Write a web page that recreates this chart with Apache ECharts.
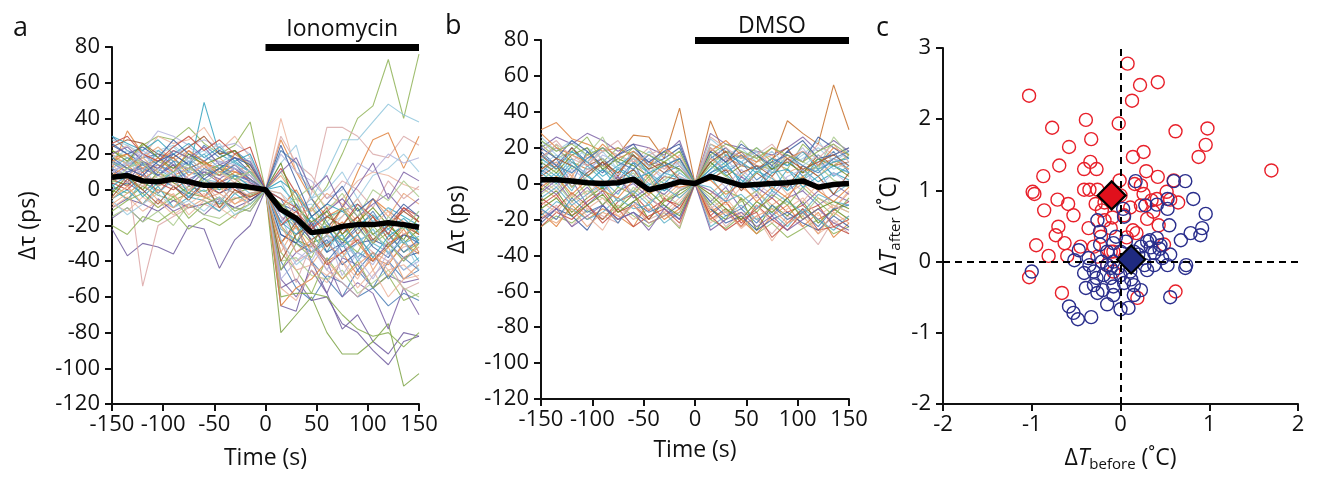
<!DOCTYPE html>
<html><head><meta charset="utf-8">
<script src="https://cdn.jsdelivr.net/npm/echarts@6/dist/echarts.min.js"></script>
<style>html,body{margin:0;padding:0;background:#fff}#c{width:1318px;height:477px}</style>
</head><body><div id="c"></div>
<script>
// ---- DATA ----
const times = [-150,-135,-120,-105,-90,-75,-60,-45,-30,-15,0,15,30,45,60,75,90,105,120,135,150];
const ionomycinSpan = [0,150];
const dmsoSpan = [0,150];
const ionomycinMean = [7,8,5,4.5,6,4.5,2.5,2.5,2.5,1.5,0,-11,-16,-24,-23,-20.5,-19.5,-19.5,-18.5,-19.5,-21];
const dmsoMean = [2.2,2.2,1.5,0.5,0,0.5,2.5,-3.4,-1.5,1,0,4,1.5,-1,-0.5,0,0.5,1.5,-2,-0.5,0];
const ionomycinCells = [
[30,22,18,20,14,12,16,10,8,5,0,-40,-55,-62,-48,-52,-60,-55,-65,-58,-62],
[12,33,20,16,22,18,15,12,10,8,0,28,10,-5,-15,-10,-20,-5,-12,-18,-25],
[18,15,25,30,28,35,26,20,25,38,0,-10,-20,-30,-26,-28,-18,-30,-24,-35,-30],
[-16,-10,-18,-5,-12,-8,-14,-6,-10,-12,0,-50,-60,-45,-58,-38,-42,-55,-48,-52,-50],
[10,8,5,12,6,10,49,20,15,10,0,2,-8,-20,-15,-12,-8,-18,-10,-15,-20],
[-22,-37,-30,-32,-36,-20,-22,-44,-28,-20,0,-65,-68,-40,-58,-78,-70,-85,-92,-80,-82],
[5,10,-54,-20,-15,-10,-8,-12,-5,-2,0,-30,-40,-35,-25,-30,-28,-35,-40,-32,-30],
[20,25,18,30,26,28,35,22,30,18,0,40,10,0,-10,-5,5,10,8,3,0],
[8,12,22,33,30,25,28,24,26,20,0,-15,-25,-20,-30,-22,-28,-25,-20,-18,-22],
[25,20,15,12,18,10,8,14,12,6,0,-8,-12,-25,-20,-35,-30,-28,-32,-25,-28],
[5,3,8,2,6,4,2,0,3,1,0,-20,-30,-10,2,20,40,47,73,40,76],
[10,15,12,8,5,10,6,4,8,2,0,5,-12,-5,10,28,28,38,48,42,38],
[15,12,10,18,14,12,10,8,6,4,0,-15,-20,-2,35,35,30,20,18,30,25],
[0,-5,2,-3,-6,-2,-4,-8,-5,-3,0,-80,-70,-60,-80,-92,-92,-85,-75,-110,-103],
[-10,-5,-8,-12,-6,-10,-8,-5,-10,-6,0,-55,-50,-62,-60,-75,-80,-90,-98,-85,-82],
[2,-2,4,0,-4,2,-1,3,-2,1,0,-60,-58,-58,-60,-70,-78,-82,-80,-88,-80],
[12,8,15,10,20,14,25,18,22,15,0,-5,-20,-40,-50,-60,-45,-55,-40,-50,-45],
[18,20,10,14,8,12,16,10,14,8,0,-10,0,-15,-25,-10,10,28,32,12,30],
[22,18,14,16,12,18,10,14,8,10,0,-35,-45,-58,-38,-50,-40,-55,-48,-62,-58],
[15,10,12,8,14,6,10,4,8,6,0,-45,-35,-30,-40,-60,-52,-58,-78,-55,-70],
[-5,0,-8,2,-10,-4,-6,-12,-2,-8,0,-20,-15,-25,-35,-20,-30,-22,-36,-28,-40],
[6,2,10,-2,8,4,-4,6,0,-6,0,12,-2,-20,-10,-25,-15,-30,-20,-10,-15],
[28,25,20,22,25,18,22,15,20,15,0,-2,-10,-8,-20,-15,-5,-18,-10,-22,-12],
[-8,-12,-4,-10,-2,-14,-6,-10,-16,-4,0,-30,-45,-42,-48,-40,-55,-45,-60,-50,-48],
[14,18,22,16,20,24,18,16,12,8,0,20,10,5,-5,0,15,10,20,15,18],
[0,4,-2,6,2,-4,4,-2,2,-6,0,-25,-30,-35,-28,-42,-35,-40,-30,-38,-35],
[20,14,18,24,16,22,12,18,10,14,0,8,-5,-12,-2,-8,-18,-5,-15,-2,-8],
[-15,-10,-18,-12,-20,-8,-14,-16,-10,-12,0,-40,-38,-48,-50,-45,-58,-52,-45,-55,-60],
[10,6,2,8,4,0,6,2,-2,4,0,30,15,8,-5,5,0,-10,5,-5,2],
[3,-6,5,-2,6,-4,0,-8,4,-2,0,-12,-22,-15,-32,-25,-40,-30,-35,-45,-38],
[24,28,26,20,18,24,30,20,22,12,0,-30,-18,-28,-22,-10,-25,-15,-28,-20,-25],
[-2,8,0,10,4,-2,8,12,6,0,0,-8,-28,-32,-15,-20,-10,-25,-18,-30,-22],
[16,12,20,14,10,16,8,12,6,10,0,22,15,-5,-18,-30,-22,-12,-25,-35,-28],
[8,14,6,12,18,8,14,4,10,6,0,-65,-55,-50,-40,-35,-48,-38,-42,-30,-36],
[-20,-25,-15,-18,-12,-22,-16,-20,-14,-10,0,-8,-15,-10,-20,-28,-18,-25,-32,-20,-28],
[12,4,16,8,14,2,10,6,12,4,0,-18,-8,-22,-12,-5,-15,-8,-2,-12,-5],
[30,26,22,28,20,26,18,24,16,20,0,5,-2,-15,-8,-12,-20,-14,-22,-16,-24],
[4,0,8,4,0,6,2,-2,4,0,0,-5,-10,-30,-42,-35,-28,-40,-30,-25,-20],
[18,22,14,20,24,16,20,26,14,18,0,15,25,-5,0,10,-5,8,12,20,10],
[-10,-4,-12,-6,-14,-8,-2,-10,-4,-8,0,-55,-62,-45,-52,-40,-50,-35,-45,-42,-50],
[10,16,8,4,12,10,14,8,12,8,0,-15,-35,-40,-25,-48,-35,-42,-28,-40,-32],
[26,20,24,18,28,20,16,22,18,10,0,-25,-30,-18,-35,-30,-20,-32,-38,-25,-30],
[-5,2,-8,0,-3,-10,-5,-2,-8,-4,0,-35,-20,-42,-30,-38,-25,-45,-32,-50,-42],
[15,12,18,10,6,12,8,14,6,10,0,10,-5,2,-12,-2,-15,0,-6,5,-4],
[8,4,12,2,10,0,4,-6,2,-4,0,-28,-52,-30,-45,-52,-60,-48,-40,-56,-52],
[12,18,10,22,16,14,20,12,16,10,0,-22,-28,-35,-30,-25,-38,-28,-22,-30,-26],
[-4,6,0,-8,2,-6,4,-10,0,-4,0,-40,-25,-20,-32,-22,-15,-28,-20,-12,-18],
[22,16,26,18,12,20,14,18,22,12,0,15,-10,-18,-12,-25,-18,-10,-20,-28,-15],
[6,10,14,8,16,4,12,8,14,6,0,-12,-18,-28,-40,-30,-45,-35,-50,-38,-45],
[16,20,12,18,10,22,16,8,20,14,0,-30,-20,-35,-25,-18,-30,-40,-32,-22,-35],
[-12,-6,-2,-10,-4,-16,-8,-4,-12,-8,0,-45,-30,-38,-20,-28,-35,-20,-30,-40,-30],
[20,24,16,12,22,18,24,14,18,16,0,10,18,0,8,-10,2,15,-5,10,5],
[2,8,-4,4,10,-2,6,0,8,2,0,-18,-25,-15,-22,-32,-25,-38,-26,-20,-30],
[26,30,20,16,24,30,22,28,20,24,0,-20,-12,-22,-15,-20,-8,-15,-25,-10,-18],
[-6,-14,-8,-2,-10,-6,-12,-4,-14,-8,0,-28,-42,-35,-25,-38,-30,-22,-35,-28,-45],
[14,6,18,10,2,8,14,10,4,12,0,-2,-15,-10,-25,-15,-5,-20,-12,-25,-20],
[10,14,20,12,8,18,10,16,14,8,0,-50,-40,-32,-45,-30,-38,-50,-35,-45,-40],
[18,12,8,16,20,14,6,12,18,14,0,25,5,-15,-8,2,-12,-5,-18,-8,-15],
[-8,-2,4,-6,-10,0,-4,2,-8,-2,0,-20,-35,-28,-40,-50,-42,-35,-48,-38,-32],
[4,12,16,6,10,14,4,10,6,10,0,-10,-5,-25,-18,-10,-22,-30,-15,-22,-12]
];
const dmsoCells = [
[15,20,12,8,10,16,27,26,14,42,0,35,15,10,8,12,35,28,22,55,30],
[30,34,25,22,18,20,15,12,10,8,0,22,18,15,10,8,12,6,10,14,8],
[-24,-18,-22,-15,-20,-12,-18,-24,-16,-25,0,-20,-25,-18,-28,-22,-30,-25,-20,-28,-24],
[20,26,22,28,24,18,22,20,16,24,0,28,22,20,18,16,20,26,18,24,18],
[8,2,12,5,-3,9,4,-1,6,3,0,12,5,-2,7,3,-4,8,1,6,2],
[-8,-14,-5,-12,-20,-10,-6,-15,-9,-12,0,-18,-10,-22,-14,-8,-16,-12,-20,-15,-10],
[26,18,24,14,20,16,10,18,12,8,0,25,18,12,20,14,10,16,24,12,15],
[-15,-20,-10,-18,-26,-12,-20,-14,-18,-10,0,-22,-15,-25,-18,-32,-20,-15,-28,-22,-18],
[5,12,-2,8,14,3,-5,10,2,-3,0,8,14,4,-6,10,2,-4,12,5,8],
[18,10,20,12,6,16,22,10,14,20,0,14,20,10,16,8,18,12,26,20,14],
[-2,-8,4,-6,2,-10,-4,6,-8,0,0,-6,2,-10,-4,-12,-6,0,-8,-14,-5],
[12,22,8,16,26,10,14,6,12,18,0,18,10,24,14,6,16,12,8,26,16],
[-20,-12,-24,-14,-18,-22,-10,-20,-16,-24,0,-12,-24,-16,-20,-28,-18,-24,-34,-20,-28],
[0,6,-4,10,2,-6,8,0,-4,6,0,4,-8,6,-2,10,-4,2,8,-6,0],
[16,8,20,10,14,4,18,12,6,14,0,20,12,18,8,14,20,6,16,10,12],
[-10,-4,-16,-8,-2,-14,-6,-20,-10,-6,0,-14,-20,-8,-26,-12,-18,-10,-22,-14,-20],
[6,14,0,18,8,2,12,-4,6,10,0,16,6,12,2,8,14,4,10,18,6],
[-16,-24,-12,-20,-14,-18,-24,-10,-20,-14,0,-16,-10,-20,-28,-18,-12,-24,-16,-30,-22],
[22,14,18,26,12,20,16,8,18,12,0,10,18,14,20,12,8,22,14,10,16],
[-5,2,-10,-2,-12,-4,0,-8,-14,-4,0,-10,-2,-14,-6,-18,-8,-4,-12,-6,-10],
[10,4,14,0,8,-2,12,6,0,8,0,6,12,0,10,-4,8,2,14,4,10],
[-12,-6,-18,-10,-4,-16,-12,-20,-8,-14,0,-20,-14,-24,-12,-20,-26,-16,-12,-24,-28],
[24,16,12,20,14,8,18,12,16,6,0,22,16,20,12,18,10,14,20,12,18],
[2,-4,6,-8,0,4,-6,2,-10,-2,0,-4,-12,-2,-8,4,-6,-10,0,-14,-4],
[14,20,10,6,16,12,4,14,8,12,0,8,14,18,10,6,12,20,8,14,10],
[-22,-14,-18,-26,-12,-20,-16,-22,-18,-12,0,-14,-22,-18,-26,-20,-16,-22,-26,-18,-24],
[8,12,4,16,10,6,14,2,10,4,0,14,8,4,12,16,6,10,4,12,8],
[-6,0,-10,-4,-8,-14,-2,-10,-6,-12,0,-8,-16,-10,-4,-14,-10,-18,-8,-12,-16],
[18,24,14,10,20,16,12,20,8,16,0,26,20,14,18,10,16,12,22,16,20],
[-18,-10,-14,-20,-16,-8,-14,-12,-22,-16,0,-24,-18,-12,-20,-16,-24,-14,-20,-26,-18],
[4,10,-2,6,12,2,8,-4,4,2,0,2,8,-4,6,0,-2,10,4,-6,6],
[12,6,16,20,8,14,10,4,12,8,0,12,4,10,16,8,12,6,14,10,4],
[-14,-20,-8,-16,-12,-22,-10,-16,-12,-20,0,-10,-18,-14,-22,-12,-20,-16,-24,-14,-12],
[28,20,16,12,22,14,18,10,20,14,0,18,24,16,12,20,14,18,10,20,16],
[-4,4,-8,0,-12,-2,-6,4,-10,-4,0,-12,-4,-8,-16,-6,-12,-2,-10,-18,-8],
[0,-6,2,-12,-4,4,-8,-2,-6,2,0,-4,-10,4,-2,-8,2,-12,-4,0,-6],
[14,8,18,12,4,10,16,6,10,14,0,8,16,12,6,14,10,18,8,12,14],
[-24,-16,-20,-12,-22,-14,-24,-18,-14,-22,0,-18,-26,-20,-16,-30,-22,-14,-26,-24,-20],
[10,16,6,12,18,8,14,10,4,12,0,16,8,12,18,6,14,10,16,8,12],
[-10,-16,-6,-14,-8,-18,-12,-6,-16,-8,0,-14,-8,-18,-12,-22,-14,-8,-18,-12,-16],
[4,-2,8,2,-6,6,0,8,-4,4,0,6,-2,8,0,-6,4,8,-2,6,0],
[20,14,24,18,10,16,20,12,18,22,0,18,12,22,16,10,18,24,14,16,20],
[-18,-22,-14,-24,-16,-20,-12,-22,-18,-16,0,-20,-16,-24,-18,-14,-22,-18,-28,-16,-22],
[2,8,-2,4,10,0,6,-4,2,8,0,10,4,-2,6,12,0,4,10,2,-2],
[14,22,16,10,18,24,12,16,20,10,0,20,14,10,16,22,12,18,14,22,12],
[-8,-2,-12,-6,0,-10,-4,-12,-2,-8,0,-2,-10,-6,-14,-4,-10,-16,-6,-10,-12],
[8,14,10,4,12,6,16,8,12,2,0,12,18,6,10,4,14,8,12,16,10],
[-14,-8,-18,-12,-6,-16,-10,-4,-12,-18,0,-6,-14,-20,-10,-16,-8,-20,-14,-10,-14],
[16,10,6,14,20,12,8,16,10,14,0,6,10,16,8,12,16,10,6,14,18],
[-2,4,-6,2,-4,-8,2,-6,0,-2,0,2,-6,0,-10,-2,-8,4,-4,-10,-2],
[24,18,22,16,20,12,20,16,12,18,0,16,22,18,14,20,16,12,18,22,16],
[-20,-14,-24,-18,-12,-20,-16,-26,-14,-20,0,-26,-20,-16,-24,-18,-26,-20,-14,-22,-26],
[6,0,10,4,-2,8,2,6,-4,2,0,4,10,2,-4,6,8,-2,4,10,6]
];
const ionoBefore = [-1.03,0.08,0.22,0.42,0.13,-0.39,-0.02,-0.77,0.62,0.98,-0.33,0.96,-0.58,0.26,0.14,0.88,-0.34,-0.41,-0.27,-0.69,1.70,0.29,-0.87,0.42,-0.01,0.60,0.16,0.23,-0.99,-0.97,-0.41,-0.35,-0.26,0.26,-0.71,-0.59,-0.28,-0.18,0.52,0.56,0.65,-0.86,-0.53,-0.21,0.04,0.23,0.37,-0.70,-0.36,-0.18,-0.11,0.14,0.43,-0.73,-0.63,-0.95,-0.30,-0.22,0.49,-0.81,-0.60,-0.26,-0.11,-1.03,-0.66,0.19,0.62,-0.08,0.00,-0.08,0.07,-0.45,-0.09,0.11,0.35,0.41,-0.15,0.18,0.30];
const ionoAfter  = [2.33,2.78,2.48,2.52,2.26,1.99,1.94,1.88,1.83,1.87,1.72,1.64,1.61,1.54,1.47,1.47,1.40,1.30,1.30,1.35,1.28,1.27,1.20,1.19,1.14,1.14,1.09,1.07,0.98,0.95,1.01,1.01,1.01,0.95,0.87,0.81,0.81,0.83,0.98,0.87,0.83,0.72,0.65,0.72,0.65,0.79,0.70,0.49,0.47,0.58,0.47,0.44,0.51,0.37,0.26,0.23,0.21,0.35,0.24,0.08,0.08,0.07,0.14,-0.22,-0.44,-0.51,-0.42,-0.14,0.93,0.14,0.34,0.21,0.62,0.76,0.86,0.88,-0.05,0.40,0.60];
const dmsoBefore = [-1.00,-0.47,-0.52,-0.58,-0.53,-0.48,-0.33,-0.39,-0.41,-0.26,-0.27,-0.26,-0.21,-0.15,-0.08,0.00,0.09,0.04,0.15,0.23,-0.11,-0.03,0.11,0.30,0.38,0.53,0.56,0.74,0.73,0.56,0.34,0.45,0.41,0.30,0.23,0.06,-0.08,-0.15,-0.23,-0.23,-0.36,-0.30,0.55,0.68,0.79,0.90,0.92,0.96,0.82,0.73,0.60,0.17,0.53,0.53,0.41,0.28,0.04,0.03,0.15,0.26,0.38,0.47,-0.15,-0.08,0.15,-0.30,-0.19,0.00,0.09,-0.11,0.27,0.33,0.00,-0.08,-0.20,0.20,-0.05,0.12,-0.35,0.44];
const dmsoAfter  = [-0.14,0.16,0.02,-0.63,-0.72,-0.81,-0.78,-0.37,-0.16,0.58,-0.23,-0.44,0.00,-0.60,-0.47,-0.67,-0.65,-0.30,-0.33,-0.40,-0.23,-0.09,-0.14,-0.12,-0.05,-0.05,-0.50,-0.05,-0.09,0.10,0.20,0.23,0.33,0.28,0.21,0.28,0.26,0.14,0.42,0.24,0.05,-0.14,0.51,0.30,0.40,0.37,0.47,0.67,0.88,1.13,1.13,1.13,0.88,0.74,0.80,0.79,0.63,0.74,0.14,0.05,0.12,0.05,-0.05,-0.35,-0.47,-0.33,-0.19,-0.19,0.02,-0.09,-0.05,0.30,0.14,0.00,-0.40,0.10,0.35,-0.25,-0.05,0.18];
const ionoMeanPoint = [-0.10, 0.93];
const dmsoMeanPoint = [0.12, 0.03];

// ---- STYLE ----
const FONT = 'Open Sans';
const palette = ['#4a7cb5','#e0823e','#8fb357','#7c62a6','#35a3c0','#c24b3e','#9ccae0','#ecb49c','#b3b3dc','#3d5ea0','#e8a277','#a9ca8c','#d9a9a9','#5db0c8','#a0522d','#6b8e23'];
const ionoColorOverride = {5:'#6f5a9e',6:'#dca6a6',10:'#8fb357',11:'#8fc6dc',13:'#7da345',14:'#6e5a9e',15:'#86ad4f'};
const dmsoColorOverride = {0:'#c8702a'};
const tickFont = {fontFamily:FONT,fontSize:22,color:'#111'};
const nameFont = {fontFamily:FONT,fontSize:23,color:'#111'};
const axisLine = {show:true,onZero:false,lineStyle:{color:'#111',width:2}};
const axisTick = {show:true,length:7,lineStyle:{color:'#111',width:2}};

function pairs(vals){return vals.map((v,i)=>[times[i],v]);}
function timeX(idx,gap){return {gridIndex:idx,type:'value',min:-150,max:150,interval:50,axisLine,axisTick,
  axisLabel:Object.assign({margin:10,showMinLabel:true,showMaxLabel:true},tickFont),splitLine:{show:false},
  name:'Time (s)',nameLocation:'middle',nameGap:gap,nameTextStyle:nameFont};}
function tauY(idx){return {gridIndex:idx,type:'value',min:-120,max:80,interval:20,axisLine,axisTick,
  axisLabel:Object.assign({margin:12},tickFont),splitLine:{show:false},
  name:'Δτ (ps)',nameLocation:'middle',nameGap:72,nameRotate:90,nameTextStyle:nameFont};}

const series = [];
function addPanel(cells, mean, span, label, idx, overrides, labelDist){
  cells.forEach((c,i)=>series.push({type:'line',xAxisIndex:idx,yAxisIndex:idx,data:pairs(c),showSymbol:false,symbol:'none',
    lineStyle:{width:1.1,color:overrides[i]||palette[i%palette.length],opacity:0.85},silent:true,animation:false,z:2}));
  series.push({type:'line',xAxisIndex:idx,yAxisIndex:idx,data:pairs(mean),showSymbol:false,symbol:'none',
    lineStyle:{width:5.5,color:'#000'},animation:false,z:5,clip:false,
    markLine:{silent:true,symbol:'none',animation:false,
      lineStyle:{color:'#000',width:7,type:'solid'},
      label:{show:true,position:'insideMiddleTop',distance:labelDist,formatter:label,fontFamily:FONT,fontSize:23,color:'#111'},
      data:[[{coord:[span[0],80]},{coord:[span[1],80]}]]}});
}
addPanel(ionomycinCells, ionomycinMean, ionomycinSpan, 'Ionomycin', 0, ionoColorOverride, 6);
addPanel(dmsoCells, dmsoMean, dmsoSpan, 'DMSO', 1, dmsoColorOverride, 2);

const RED='#e8202a', BLUE='#2a2e8c';
const zip=(a,b)=>a.map((v,i)=>[v,b[i]]);
series.push({type:'scatter',xAxisIndex:2,yAxisIndex:2,data:zip(ionoBefore,ionoAfter),symbol:'circle',symbolSize:13,
  itemStyle:{color:'rgba(0,0,0,0)',borderColor:RED,borderWidth:1.4,opacity:1},animation:false,z:3,
  markLine:{silent:true,symbol:'none',animation:false,label:{show:false},
    lineStyle:{color:'#000',width:2,type:[7,5]},data:[{xAxis:0},{yAxis:0}]}});
series.push({type:'scatter',xAxisIndex:2,yAxisIndex:2,data:zip(dmsoBefore,dmsoAfter),symbol:'circle',symbolSize:13,
  itemStyle:{color:'rgba(0,0,0,0)',borderColor:BLUE,borderWidth:1.4,opacity:1},animation:false,z:4});
series.push({type:'scatter',xAxisIndex:2,yAxisIndex:2,data:[ionoMeanPoint],symbol:'diamond',symbolSize:28,
  itemStyle:{color:'#e0101c',borderColor:'#000',borderWidth:2.2,opacity:1},animation:false,z:6});
series.push({type:'scatter',xAxisIndex:2,yAxisIndex:2,data:[dmsoMeanPoint],symbol:'diamond',symbolSize:28,
  itemStyle:{color:'#1f2a80',borderColor:'#000',borderWidth:2.2,opacity:1},animation:false,z:6});

const rich = {
  n:{fontFamily:FONT,fontSize:23,color:'#111',lineHeight:28},
  i:{fontFamily:FONT,fontSize:23,fontStyle:'italic',color:'#111',lineHeight:28},
  s:{fontFamily:FONT,fontSize:15,color:'#111',lineHeight:15,padding:[13,0,0,0]}
};

const option = {
  backgroundColor:'#fff',
  animation:false,
  title:[
    {text:'a',left:8,top:10,textStyle:{fontFamily:FONT,fontSize:27,fontWeight:'normal',color:'#111'}},
    {text:'b',left:440,top:8,textStyle:{fontFamily:FONT,fontSize:27,fontWeight:'normal',color:'#111'}},
    {text:'c',left:871,top:10,textStyle:{fontFamily:FONT,fontSize:27,fontWeight:'normal',color:'#111'}}
  ],
  grid:[
    {left:112,top:47,width:307,height:357},
    {left:541,top:40,width:308,height:359},
    {left:943,top:48,width:355,height:359}
  ],
  xAxis:[timeX(0,43),timeX(1,40),
    {gridIndex:2,type:'value',min:-2,max:2,interval:1,axisLine,axisTick,splitLine:{show:false},
     axisLabel:Object.assign({margin:10},tickFont),
     name:'{n|Δ}{i|T}{s|before}{n| (˚C)}',nameLocation:'middle',nameGap:40,nameTextStyle:{rich}}],
  yAxis:[tauY(0),tauY(1),
    {gridIndex:2,type:'value',min:-2,max:3,interval:1,axisLine,axisTick,splitLine:{show:false},
     axisLabel:Object.assign({margin:12},tickFont),
     name:'{n|Δ}{i|T}{s|after}{n| (˚C)}',nameLocation:'middle',nameGap:40,nameRotate:90,nameTextStyle:{rich}}],
  series
};
const chart = echarts.init(document.getElementById('c'),null,{renderer:'canvas'});
chart.setOption(option);
</script></body></html>
